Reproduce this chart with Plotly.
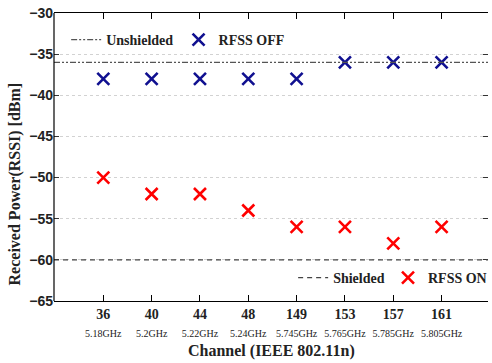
import plotly.graph_objects as go

channels = ["36", "40", "44", "48", "149", "153", "157", "161"]
freqs = ["5.18GHz", "5.2GHz", "5.22GHz", "5.24GHz", "5.745GHz", "5.765GHz", "5.785GHz", "5.805GHz"]
rfss_off = [-38, -38, -38, -38, -38, -36, -36, -36]
rfss_on = [-50, -52, -52, -54, -56, -56, -58, -56]
unshielded_level = -36
shielded_level = -60
y_ticks = [-30, -35, -40, -45, -50, -55, -60, -65]

SERIF = "Liberation Serif, Times New Roman, serif"
SANS = "Liberation Sans, Arial, sans-serif"
TEXT = "#222222"

pos = list(range(len(channels)))
tick_text = [f"<b>{c}</b><br><span style='font-size:10px'>{f}</span>" for c, f in zip(channels, freqs)]

fig = go.Figure()

fig.add_trace(go.Scatter(
    x=pos, y=rfss_off, mode="markers", name="RFSS OFF", legend="legend2",
    marker=dict(symbol="x-thin", size=12, line=dict(width=2.6, color="#101090")),
))
fig.add_trace(go.Scatter(
    x=pos, y=rfss_on, mode="markers", name="RFSS ON", legend="legend4",
    marker=dict(symbol="x-thin", size=12, line=dict(width=2.6, color="#ff0000")),
))

fig.add_shape(type="line", xref="paper", x0=0, x1=1, yref="y", y0=unshielded_level, y1=unshielded_level,
              line=dict(color="#555555", width=1.2, dash="6px,2px,2px,2px,2px,2px"),
              showlegend=True, name="Unshielded", legend="legend")
fig.add_shape(type="line", xref="paper", x0=0, x1=1, yref="y", y0=shielded_level, y1=shielded_level,
              line=dict(color="#444444", width=1.2, dash="5px,4px"),
              showlegend=True, name="Shielded", legend="legend3")
# left frame edge
fig.add_shape(type="line", xref="paper", yref="paper", x0=0, x1=0, y0=0, y1=1,
              line=dict(color="black", width=1.2))

legend_font = dict(family=SERIF, size=14, color=TEXT, weight="bold")


def legend_box(x, y):
    return dict(orientation="h", x=x, y=y, xanchor="left", yanchor="middle",
                font=legend_font, bgcolor="rgba(0,0,0,0)", itemwidth=30)


fig.update_layout(
    width=492, height=363,
    margin=dict(l=54, r=0, t=13, b=62),
    plot_bgcolor="white", paper_bgcolor="white",
    font=dict(family=SERIF, color="black"),
    legend=legend_box(0.028, 0.906),
    legend2=legend_box(0.287, 0.906),
    legend3=legend_box(0.551, 0.080),
    legend4=legend_box(0.770, 0.080),
    annotations=[
        dict(text="<b>Channel (IEEE 802.11n)</b>", xref="paper", yref="paper",
             x=0.5, y=-0.174, xanchor="center", yanchor="middle", showarrow=False,
             font=dict(family=SERIF, size=16, color=TEXT)),
        dict(text="<b>Received Power(RSSI) [dBm]</b>", xref="paper", yref="paper",
             x=-0.089, y=0.406, xanchor="center", yanchor="middle", textangle=-90, showarrow=False,
             font=dict(family=SERIF, size=16, color=TEXT)),
    ],
)

fig.update_xaxes(
    range=[-1.02, 7.96], tickmode="array", tickvals=pos, ticktext=tick_text,
    ticks="inside", ticklen=6, tickcolor="black", showline=True, linecolor="black", linewidth=1.2,
    mirror="ticks", showgrid=False, zeroline=False,
    tickfont=dict(family=SERIF, size=14, color=TEXT),
)
fig.update_yaxes(
    range=[-65, -30], tickmode="array", tickvals=y_ticks,
    ticks="inside", ticklen=5, tickcolor="#333333", showline=False,
    mirror="ticks", showgrid=True, gridcolor="#d2d2d2", griddash="dot", gridwidth=1, zeroline=False,
    tickfont=dict(family=SANS, size=14, color=TEXT, weight="bold"),
)

fig.write_html("out.html")
